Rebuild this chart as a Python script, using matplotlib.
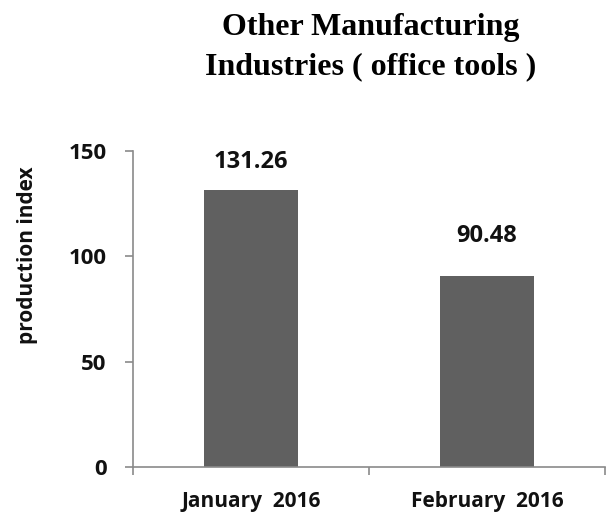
import matplotlib
matplotlib.use("Agg")
import matplotlib.pyplot as plt

categories = ["January  2016", "February  2016"]
values = [131.26, 90.48]
value_labels = ["131.26", "90.48"]
yticks = [0, 50, 100, 150]
title = "Other Manufacturing\nIndustries ( office tools )"
ylabel = "production index"

# per-label vertical offset (points) of the value labels above the bar tops
label_offsets = [16.5, 24.5]

sans = ["Open Sans", "DejaVu Sans"]
serif = ["Liberation Serif", "DejaVu Serif"]
txt = "#111111"
axis_gray = "#8a8a8a"

fig = plt.figure(figsize=(6.10, 5.16), dpi=100)
ax = fig.add_axes([133/610, 1-467/516, (605-133)/610, (467-151)/516])

x = list(range(len(categories)))
ax.bar(x, values, width=0.4, color="#606060", zorder=2)
ax.set_xlim(-0.5, len(categories) - 0.5)
ax.set_ylim(0, 150)

for xi, v, lab, off in zip(x, values, value_labels, label_offsets):
    ax.annotate(lab, (xi, v), xytext=(0, off), textcoords="offset points",
                ha="center", va="baseline", fontsize=17, fontweight="bold",
                family=sans, color=txt)

ax.set_yticks(yticks)
ax.set_yticklabels([str(t) for t in yticks], fontsize=16, fontweight="bold",
                   family=sans, color=txt)
ax.set_xticks(x)
ax.set_xticklabels(categories, fontsize=15, fontweight="bold", family=sans,
                   color=txt)
ax.set_xticks([-0.5, 0.5, 1.5], minor=True)
ax.tick_params(axis="x", which="major", length=0, pad=17)
ax.tick_params(axis="x", which="minor", length=6, color=axis_gray, width=1.2, direction="out")
ax.tick_params(axis="y", length=6, color=axis_gray, width=1.2, direction="out", pad=13)

for s in ["top", "right"]:
    ax.spines[s].set_visible(False)
for s in ["left", "bottom"]:
    ax.spines[s].set_color(axis_gray)
    ax.spines[s].set_linewidth(1.2)

fig.text(27.5/610, 1-255/516, ylabel, rotation=90, ha="center", va="center",
         fontsize=15, fontweight="bold", family=sans, color=txt)
fig.text(371/610, 1-13/516, title, ha="center", va="top", fontsize=23,
         fontweight="bold", family=serif, color="black", linespacing=1.47)

fig.savefig("out.png", dpi=100, facecolor="white")
